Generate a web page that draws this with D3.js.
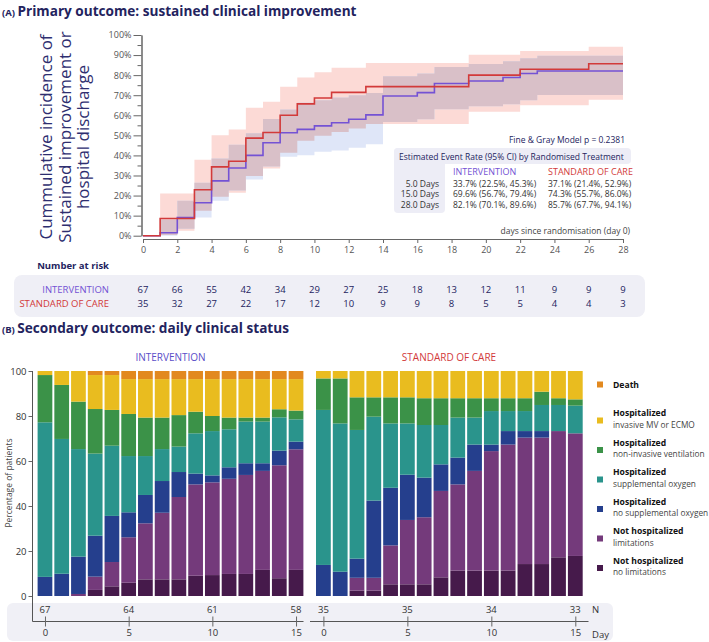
<!DOCTYPE html>
<html>
<head>
<meta charset="utf-8">
<script src="https://cdn.jsdelivr.net/npm/d3@7/dist/d3.min.js"></script>
<style>
  body { margin: 0; background: #fff; }
  svg text { font-family: "Open Sans", sans-serif; }
</style>
</head>
<body>
<svg id="chart" width="709" height="642"></svg>
<script>
// ---------- panel A : cumulative incidence (%) step data
let intTimes = [0,1,2,3,4,5,6,7,8,9,10,11,12,13,14,16,17,19,21,22,23]
let intCif   = [0,1.5,9.0,16.4,27.3,33.7,40.0,46.3,51.3,53.0,54.7,56.3,58.0,60.2,69.6,71.3,75.8,77.1,78.8,80.8,82.1]
let intLow   = [0,0,3.5,9.1,17.4,22.5,28.0,34.5,39.3,40.1,41.8,42.5,43.8,45.6,56.7,58.0,63.0,64.5,65.5,67.5,70.1]
let intHigh  = [0,8,17.4,26.4,38.5,45.3,51.0,58.2,62.9,66.2,67.5,68.8,70.0,71.1,79.4,80.8,84.1,85.5,86.9,88.4,89.6]

let socTimes = [0,1,2,3,4,5,6,7,8,9,10,11,12,13,19,22,26]
let socCif   = [0,8.6,8.6,22.9,34.3,37.1,48.6,51.4,60.0,65.7,68.6,71.4,71.4,74.3,80.0,82.9,85.7]
let socLow   = [0,0.3,2.5,12.4,19.4,21.4,29.7,33.5,41.3,47.3,49.8,51.7,53.4,55.7,61.7,65.0,67.7]
let socHigh  = [0,21,21,37.8,50,52.9,63.8,66.7,74.2,78.8,81.5,83.7,83.7,86.0,90.2,92.0,94.1]

let riskDays = [0,2,4,6,8,10,12,14,16,18,20,22,24,26,28]
let riskInt  = [67,66,55,42,34,29,27,25,18,13,12,11,9,9,9]
let riskSoc  = [35,32,27,22,17,12,10,9,9,8,5,5,4,4,3]

let ciDays = ['5.0 Days','15.0 Days','28.0 Days']
let ciInt  = ['33.7% (22.5%, 45.3%)','69.6% (56.7%, 79.4%)','82.1% (70.1%, 89.6%)']
let ciSoc  = ['37.1% (21.4%, 52.9%)','74.3% (55.7%, 86.0%)','85.7% (67.7%, 94.1%)']

// ---------- panel B : daily clinical status (% of patients), days 0..15
let statusDays = d3.range(0,16)
let intNoLim = [0,0,0,2.7,4.3,5.9,7.4,7.4,7.4,9.0,9.3,9.8,9.8,11.6,7.9,11.6]
let intLim   = [0,0,0.9,5.9,10.8,20.2,24.9,29.6,36.6,40.6,41.2,42.3,44.0,44.0,50.2,53.6]
let intNoO2  = [8.5,9.9,16.6,18.2,20.5,11.1,12.6,14.1,11.1,4.8,3.1,5.1,5.2,3.4,6.5,3.4]
let intO2    = [68.7,59.9,47.8,36.5,31.2,25.0,17.3,14.2,11.3,17.9,19.7,16.9,18.5,18.5,14.8,9.9]
let intNiv   = [21.0,24.0,21.1,19.8,15.9,18.7,17.1,14.0,14.0,9.6,6.7,5.2,1.8,1.8,3.6,3.9]
let intImv   = [1.8,6.2,13.6,15.1,15.5,15.5,17.1,17.1,16.0,14.5,16.4,17.1,17.1,17.1,13.4,14.0]
let intDeath = [0,0,0,1.8,1.8,3.6,3.6,3.6,3.6,3.6,3.6,3.6,3.6,3.6,3.6,3.6]

let socNoLim = [0,0,2.4,2.4,5.2,5.2,5.2,8.3,11.3,11.3,11.3,11.3,14.2,14.2,17.2,17.8]
let socLim   = [0,0,5.7,5.7,17.3,28.6,29.8,38.4,38.3,44.3,53.1,56.0,56.2,56.2,56.1,54.5]
let socNoO2  = [13.8,10.8,8.5,34.3,25.6,20.1,17.6,11.8,11.9,11.7,2.9,6.0,2.9,2.9,0,0]
let socO2    = [68.9,65.9,57.2,37.3,28.6,22.8,23.4,17.5,17.8,12.0,14.9,8.9,8.9,11.6,11.6,12.3]
let socNiv   = [14.0,20.0,14.5,8.6,11.6,11.6,11.9,11.9,8.6,8.6,5.7,5.7,5.7,5.9,3.0,2.8]
let socImv   = [3.3,3.3,11.7,11.7,11.7,11.7,12.1,12.1,12.1,12.1,12.1,12.1,12.1,9.2,12.1,12.6]
let socDeath = [0,0,0,0,0,0,0,0,0,0,0,0,0,0,0,0]

let nDays = [0,5,10,15]
let nInt  = [67,64,61,58]
let nSoc  = [35,35,34,33]

let catKeys    = ['noLim','lim','noO2','o2','niv','imv','death']
let catColors  = ['#461a4b','#743a7b','#253f8d','#2a948c','#3b9248','#e9bc1f','#e2891f']
let legTitles  = ['Death','Hospitalized','Hospitalized','Hospitalized','Hospitalized','Not hospitalized','Not hospitalized']
let legSubs    = ['','invasive MV or ECMO','non-invasive ventilation','supplemental oxygen','no supplemental oxygen','limitations','no limitations']

let navy = '#23235e'
let redC = '#d23a3a'
let blueC = '#7452d4'

let svg = d3.select('#chart')

// ================= PANEL A =================
let tA = svg.append('text').attr('x', 2).attr('y', 15.5).attr('fill', navy).attr('font-weight', 700)
tA.append('tspan').attr('font-size', 9.5).text('(A) ')
tA.append('tspan').attr('font-size', 13.6).text('Primary outcome: sustained clinical improvement')

let xTop = d3.scaleLinear().domain([0,28]).range([143,623])
let yTop = d3.scaleLinear().domain([0,100]).range([235.7,35])

// y label
let yl = svg.append('text').attr('transform', 'translate(52,137) rotate(-90)')
  .attr('text-anchor', 'middle').attr('font-size', 17).attr('fill', '#2e2e70')
;['Cummulative incidence of','Sustained improvement or','hospital discharge'].forEach((l,i) => {
  yl.append('tspan').attr('x', 0).attr('dy', i == 0 ? 0 : 18.5).text(l)
})

let styleAxis = (g, col) => {
  g.selectAll('.domain').attr('stroke', '#666')
  g.selectAll('.tick line').attr('stroke', '#666')
  g.selectAll('.tick text').attr('fill', col).attr('font-family', '"Open Sans", sans-serif')
}

let yMajor = svg.append('g').attr('transform', 'translate(141.5,0)')
  .call(d3.axisLeft(yTop).tickValues(d3.range(0,101,10)).tickFormat(d => d + '%').tickSize(8).tickSizeOuter(0).tickPadding(2))
  .attr('font-size', 9)
styleAxis(yMajor, '#555')
let yMinor = svg.append('g').attr('transform', 'translate(141.5,0)')
  .call(d3.axisLeft(yTop).tickValues(d3.range(5,100,10)).tickFormat('').tickSize(4).tickSizeOuter(0))
styleAxis(yMinor, '#555')

let xA = svg.append('g').attr('transform', 'translate(0,239)')
  .call(d3.axisBottom(xTop).tickValues(riskDays).tickSize(4).tickSizeOuter(0).tickPadding(4))
  .attr('font-size', 9)
styleAxis(xA, '#555')

svg.append('text').attr('x', 630).attr('y', 234).attr('text-anchor', 'end')
  .attr('font-size', 8.5).attr('fill', '#444').text('days since randomisation (day 0)')

// step rows
let toRows = (times, cif, lo, hi) => {
  let rows = times.map((t,i) => ({t: t, v: cif[i], lo: lo[i], hi: hi[i]}))
  rows.push(Object.assign({}, rows[rows.length-1], {t: 28}))
  return rows
}
let intRows = toRows(intTimes, intCif, intLow, intHigh)
let socRows = toRows(socTimes, socCif, socLow, socHigh)

let valAt = (rows, t) => {
  let r = rows[0]
  rows.forEach(d => { if (d.t <= t) r = d })
  return r
}
let allTimes = Array.from(new Set(intTimes.concat(socTimes, [28]))).sort((a,b) => a-b)
let overlapRows = allTimes.map(t => {
  let a = valAt(intRows, t), b = valAt(socRows, t)
  let lo = Math.max(a.lo, b.lo), hi = Math.min(a.hi, b.hi)
  return {t: t, lo: lo, hi: Math.max(lo, hi)}
})

let band = d3.area().x(d => xTop(d.t)).y0(d => yTop(d.lo)).y1(d => yTop(d.hi)).curve(d3.curveStepAfter)
svg.append('path').datum(socRows).attr('d', band).attr('fill', '#fcdad6')
svg.append('path').datum(intRows).attr('d', band).attr('fill', '#dfe6f8')
svg.append('path').datum(overlapRows).attr('d', band).attr('fill', '#d9c0c8')

let step = d3.line().x(d => xTop(d.t)).y(d => yTop(d.v)).curve(d3.curveStepAfter)
svg.append('path').datum(intRows).attr('d', step).attr('fill', 'none').attr('stroke', blueC).attr('stroke-width', 1.6)
svg.append('path').datum(socRows).attr('d', step).attr('fill', 'none').attr('stroke', redC).attr('stroke-width', 1.6)

// stats box
svg.append('text').attr('x', 625).attr('y', 142.5).attr('text-anchor', 'end')
  .attr('font-size', 8.5).attr('fill', navy).text('Fine & Gray Model p = 0.2381')
svg.append('rect').attr('x', 394).attr('y', 148).attr('width', 237).attr('height', 16).attr('rx', 4).attr('fill', '#ededf6')
svg.append('rect').attr('x', 394).attr('y', 148).attr('width', 51).attr('height', 65).attr('rx', 4).attr('fill', '#ededf6')
svg.append('text').attr('x', 399).attr('y', 159.5).attr('font-size', 8.5).attr('fill', navy)
  .text('Estimated Event Rate (95% CI) by Randomised Treatment')
svg.append('text').attr('x', 453).attr('y', 174.5).attr('font-size', 9).attr('fill', blueC).text('INTERVENTION')
svg.append('text').attr('x', 548).attr('y', 174.5).attr('font-size', 9).attr('fill', redC).text('STANDARD OF CARE')
ciDays.forEach((d,i) => {
  let y = 186.5 + i * 10.8
  svg.append('text').attr('x', 439).attr('y', y).attr('text-anchor', 'end').attr('font-size', 8.5).attr('fill', '#333').text(d)
  svg.append('text').attr('x', 453).attr('y', y).attr('font-size', 8.5).attr('fill', '#333').text(ciInt[i])
  svg.append('text').attr('x', 548).attr('y', y).attr('font-size', 8.5).attr('fill', '#333').text(ciSoc[i])
})

// number at risk
svg.append('text').attr('x', 109).attr('y', 268.5).attr('text-anchor', 'end')
  .attr('font-size', 9.5).attr('font-weight', 700).attr('fill', navy).text('Number at risk')
svg.append('rect').attr('x', 14).attr('y', 275).attr('width', 631).attr('height', 42).attr('rx', 8).attr('fill', '#efeff6')
svg.append('text').attr('x', 109).attr('y', 292.5).attr('text-anchor', 'end').attr('font-size', 9.5).attr('fill', blueC).text('INTERVENTION')
svg.append('text').attr('x', 109).attr('y', 306.5).attr('text-anchor', 'end').attr('font-size', 9.5).attr('fill', redC).text('STANDARD OF CARE')
svg.selectAll('.riskInt').data(riskDays).enter().append('text')
  .attr('x', d => xTop(d)).attr('y', 292.5).attr('text-anchor', 'middle').attr('font-size', 9.5).attr('fill', navy)
  .text((d,i) => riskInt[i])
svg.selectAll('.riskSoc').data(riskDays).enter().append('text')
  .attr('x', d => xTop(d)).attr('y', 306.5).attr('text-anchor', 'middle').attr('font-size', 9.5).attr('fill', navy)
  .text((d,i) => riskSoc[i])

// ================= PANEL B =================
let tB = svg.append('text').attr('x', 2).attr('y', 332.5).attr('fill', navy).attr('font-weight', 700)
tB.append('tspan').attr('font-size', 9.5).text('(B) ')
tB.append('tspan').attr('font-size', 13.6).text('Secondary outcome: daily clinical status')

let yB = d3.scaleLinear().domain([0,100]).range([596,371])
let xL = d3.scaleBand().domain(statusDays).range([36.6,304.4]).paddingInner(0.12).paddingOuter(0.06)
let xR = d3.scaleBand().domain(statusDays).range([315,583.7]).paddingInner(0.12).paddingOuter(0.06)

// bottom grey strip
svg.append('rect').attr('x', 7).attr('y', 603).attr('width', 606).attr('height', 38).attr('rx', 6).attr('fill', '#f0f0f6')

let buildRows = (arrs) => statusDays.map(d => {
  let o = {day: d}
  catKeys.forEach((k,j) => { o[k] = arrs[j][d] })
  return o
})
let stack = d3.stack().keys(catKeys)
let intStack = stack(buildRows([intNoLim,intLim,intNoO2,intO2,intNiv,intImv,intDeath]))
let socStack = stack(buildRows([socNoLim,socLim,socNoO2,socO2,socNiv,socImv,socDeath]))

let drawBars = (series, x) => {
  svg.append('g').selectAll('g').data(series).enter().append('g')
    .attr('fill', (s,i) => catColors[i])
    .selectAll('rect').data(s => s).enter().append('rect')
    .attr('x', d => x(d.data.day)).attr('width', x.bandwidth())
    .attr('y', d => yB(d[1])).attr('height', d => Math.max(0, yB(d[0]) - yB(d[1])))
}
drawBars(intStack, xL)
drawBars(socStack, xR)

svg.append('text').attr('x', 170.5).attr('y', 361).attr('text-anchor', 'middle')
  .attr('font-size', 10).attr('fill', '#5a4ec8').text('INTERVENTION')
svg.append('text').attr('x', 449).attr('y', 361).attr('text-anchor', 'middle')
  .attr('font-size', 10).attr('fill', redC).text('STANDARD OF CARE')

// y axis
let yAxB = svg.append('g').attr('transform', 'translate(32.5,0)')
  .call(d3.axisLeft(yB).tickValues([0,20,40,60,80,100]).tickSize(4).tickSizeOuter(0).tickPadding(2))
  .attr('font-size', 9.5)
yAxB.select('.domain').remove()
styleAxis(yAxB, '#333')
svg.append('path').attr('d', 'M32.5,371V621.5H303.5').attr('fill', 'none').attr('stroke', '#555')
svg.append('path').attr('d', 'M310,621.5H588.5').attr('fill', 'none').attr('stroke', '#555')

svg.append('text').attr('transform', 'translate(12,483) rotate(-90)').attr('text-anchor', 'middle')
  .attr('font-size', 8.5).attr('fill', '#444').text('Percentage of patients')

// day axes
let dayAxis = (x, nVals) => {
  let lin = d3.scaleLinear().domain([0,15]).range([x(0) + x.bandwidth()/2, x(15) + x.bandwidth()/2])
  let g = svg.append('g').attr('transform', 'translate(0,616.5)')
    .call(d3.axisBottom(lin).tickValues(nDays).tickSize(10).tickPadding(3))
    .attr('font-size', 9.5)
  g.select('.domain').remove()
  styleAxis(g, '#333')
  svg.selectAll(null).data(nDays).enter().append('text')
    .attr('x', d => lin(d)).attr('y', 612.5).attr('text-anchor', 'middle')
    .attr('font-size', 9.5).attr('fill', '#333').text((d,i) => nVals[i])
}
dayAxis(xL, nInt)
dayAxis(xR, nSoc)
svg.append('text').attr('x', 592).attr('y', 612.5).attr('font-size', 9.5).attr('fill', '#333').text('N')
svg.append('text').attr('x', 592).attr('y', 637.5).attr('font-size', 9.5).attr('fill', '#333').text('Day')

// legend (top to bottom: death ... no limitations)
let legIdx = d3.range(catKeys.length).reverse()
legIdx.forEach((k,i) => {
  let y = 384.5 + i * 29.5
  let ty = i == 0 ? y : y - 1
  svg.append('rect').attr('x', 597).attr('y', (i == 0 ? y : y + 6.5) - 3).attr('width', 6).attr('height', 6)
    .attr('fill', catColors[k])
  svg.append('text').attr('x', 613).attr('y', ty + 3).attr('font-size', 8.6).attr('font-weight', 700)
    .attr('fill', '#111').text(legTitles[i])
  if (legSubs[i]) {
    svg.append('text').attr('x', 613).attr('y', ty + 14.6).attr('font-size', 8.3)
      .attr('fill', '#444').text(legSubs[i])
  }
})
</script>
</body>
</html>
